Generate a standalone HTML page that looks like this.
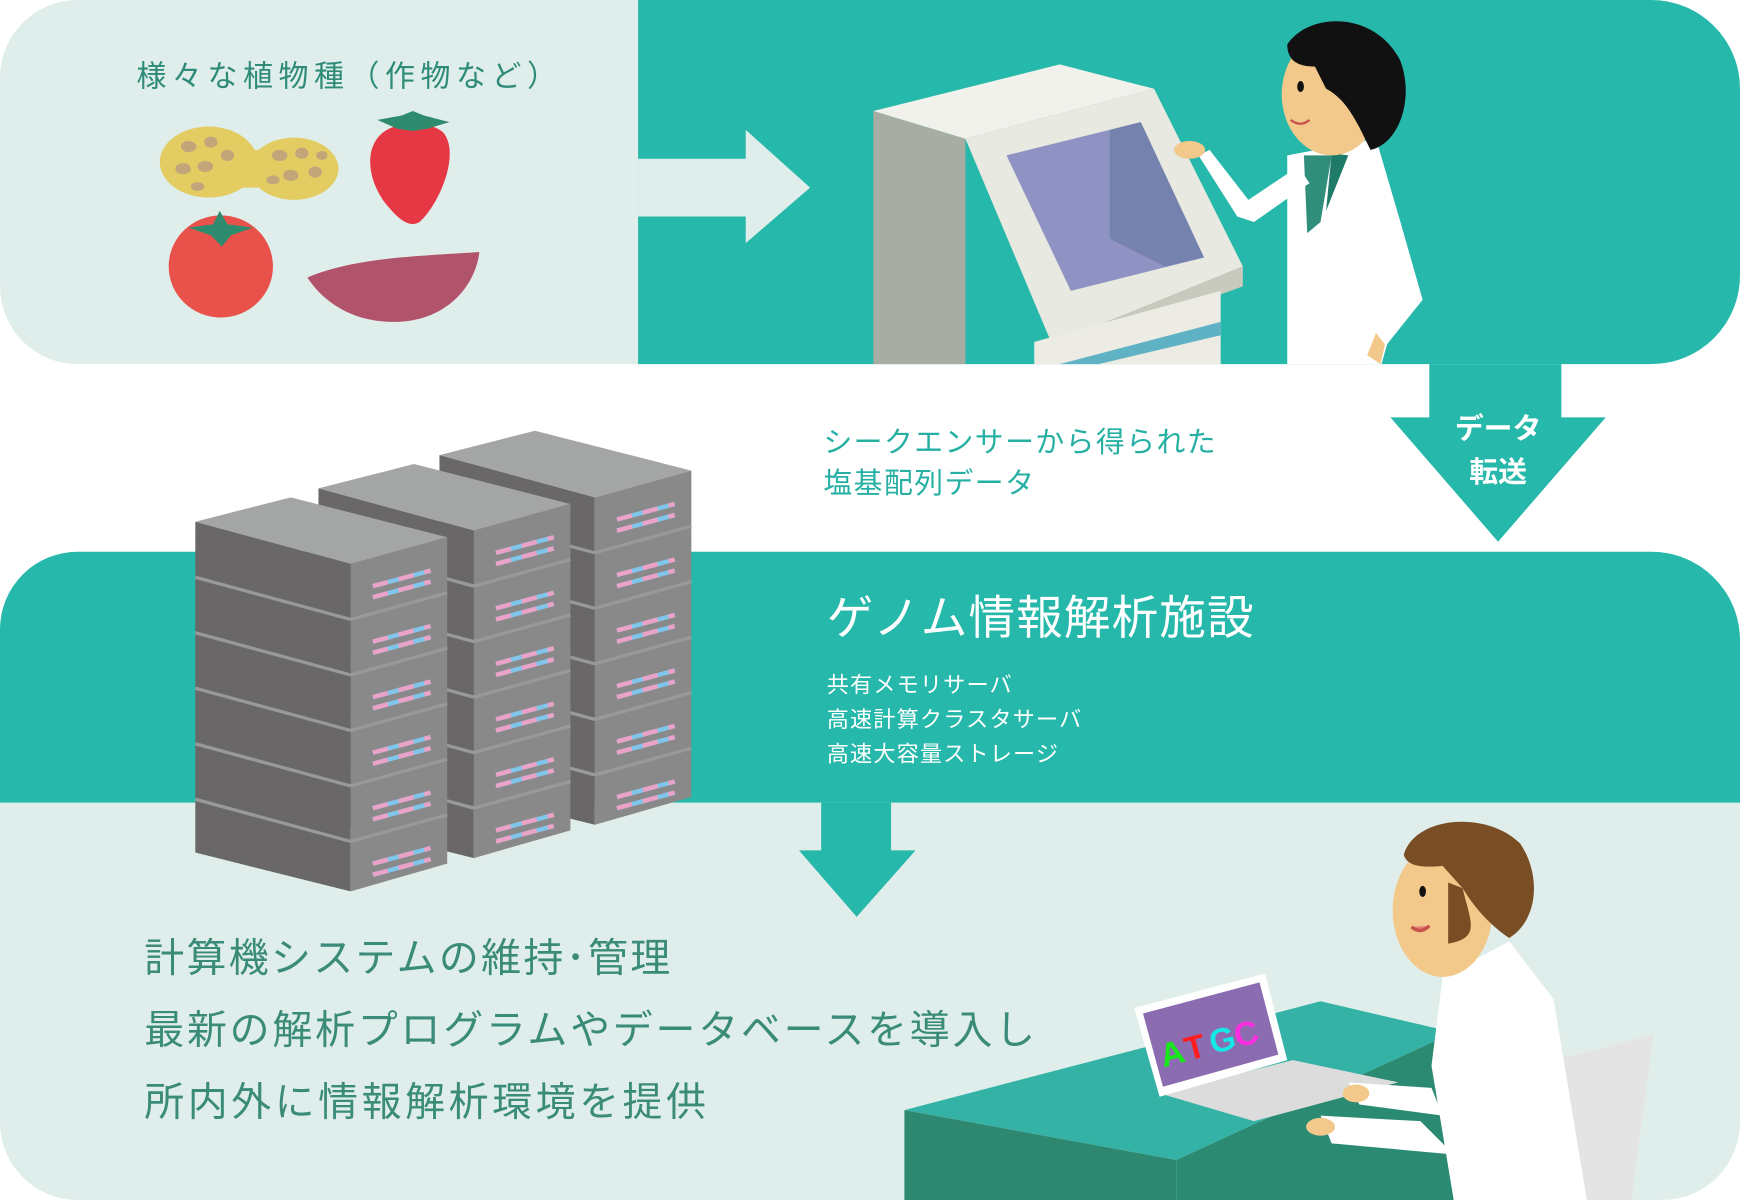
<!DOCTYPE html>
<html><head><meta charset="utf-8"><style>
html,body{margin:0;padding:0;background:#fff;}
svg{display:block}
text{font-family:"Liberation Sans","Noto Sans CJK JP",sans-serif;}
</style></head><body>
<svg width="1740" height="1200" viewBox="0 0 1568 1081" preserveAspectRatio="none" xmlns="http://www.w3.org/2000/svg">
<defs>
<g id="stack">
  <polygon points="0,0 86,-22 227,14 140,38" fill="#a4a5a5"/>
  <polygon points="0,0 140,38 140,333 0,298" fill="#696768"/>
  <polygon points="140,38 227,14 227,308 140,333" fill="#8a898a"/>
  <g stroke="#9a999a" stroke-width="3">
    <line x1="0" y1="50" x2="140" y2="88"/><line x1="0" y1="100" x2="140" y2="138"/>
    <line x1="0" y1="150" x2="140" y2="188"/><line x1="0" y1="200" x2="140" y2="238"/>
    <line x1="0" y1="250" x2="140" y2="288"/>
    <line x1="140" y1="88" x2="227" y2="64"/><line x1="140" y1="138" x2="227" y2="114"/>
    <line x1="140" y1="188" x2="227" y2="164"/><line x1="140" y1="238" x2="227" y2="214"/>
    <line x1="140" y1="288" x2="227" y2="264"/>
  </g>
  <g stroke-width="4">
    <g stroke="#7fc6ea">
      <line x1="160" y1="58" x2="212" y2="44"/><line x1="160" y1="68" x2="212" y2="54"/>
      <line x1="160" y1="108" x2="212" y2="94"/><line x1="160" y1="118" x2="212" y2="104"/>
      <line x1="160" y1="158" x2="212" y2="144"/><line x1="160" y1="168" x2="212" y2="154"/>
      <line x1="160" y1="208" x2="212" y2="194"/><line x1="160" y1="218" x2="212" y2="204"/>
      <line x1="160" y1="258" x2="212" y2="244"/><line x1="160" y1="268" x2="212" y2="254"/>
      <line x1="160" y1="308" x2="212" y2="294"/><line x1="160" y1="318" x2="212" y2="304"/>
    </g>
    <g stroke="#eaa2c8" stroke-dasharray="14 10">
      <line x1="160" y1="58" x2="212" y2="44"/><line x1="160" y1="68" x2="212" y2="54"/>
      <line x1="160" y1="108" x2="212" y2="94"/><line x1="160" y1="118" x2="212" y2="104"/>
      <line x1="160" y1="158" x2="212" y2="144"/><line x1="160" y1="168" x2="212" y2="154"/>
      <line x1="160" y1="208" x2="212" y2="194"/><line x1="160" y1="218" x2="212" y2="204"/>
      <line x1="160" y1="258" x2="212" y2="244"/><line x1="160" y1="268" x2="212" y2="254"/>
      <line x1="160" y1="308" x2="212" y2="294"/><line x1="160" y1="318" x2="212" y2="304"/>
    </g>
  </g>
</g>
</defs>

<path d="M70,0 H575 V328 H70 A70,70 0 0 1 0,258 V70 A70,70 0 0 1 70,0Z" fill="#e0eeeb"/>
<path d="M575,0 H1488 A80,80 0 0 1 1568,80 V248 A80,80 0 0 1 1488,328 H575Z" fill="#26b8aa"/>
<polygon points="575,143 672,143 672,117 730,169 672,219 672,195 575,195" fill="#e0eeeb"/>
<text x="123" y="78" font-size="27" fill="#2d8b78" letter-spacing="5">様々な植物種（作物など）</text>

<g>
  <ellipse cx="188" cy="146" rx="44" ry="32" fill="#e3cd62"/>
  <ellipse cx="265" cy="152" rx="40" ry="28" fill="#e3cd62"/>
  <rect x="200" y="135" width="60" height="34" fill="#e3cd62"/>
  <g fill="#c2a679">
    <ellipse cx="170" cy="132" rx="7" ry="5"/><ellipse cx="190" cy="128" rx="6" ry="5"/><ellipse cx="165" cy="152" rx="7" ry="5"/>
    <ellipse cx="185" cy="150" rx="7" ry="5"/><ellipse cx="205" cy="140" rx="6" ry="5"/><ellipse cx="178" cy="168" rx="6" ry="4"/>
    <ellipse cx="252" cy="140" rx="7" ry="5"/><ellipse cx="272" cy="138" rx="6" ry="5"/><ellipse cx="262" cy="158" rx="7" ry="5"/>
    <ellipse cx="284" cy="155" rx="6" ry="5"/><ellipse cx="246" cy="162" rx="6" ry="4"/><ellipse cx="290" cy="140" rx="5" ry="4"/>
  </g>
  <path d="M370,112 C330,112 325,150 345,180 C360,200 370,205 378,200 C395,185 415,140 400,120 C392,112 380,112 370,112Z" fill="#e63744"/>
  <path d="M340,108 L362,104 L372,100 L382,104 L405,110 L385,116 L372,118 L358,116Z" fill="#2e8b6e"/>
  <ellipse cx="199" cy="240" rx="47" ry="46" fill="#e8524a"/>
  <path d="M170,205 L192,202 L198,190 L205,202 L228,205 L208,212 L200,222 L190,212Z" fill="#2e8b6e"/>
  <path d="M277,250 C300,240 330,235 360,232 C395,229 420,228 432,227 C428,260 400,290 355,290 C315,290 290,270 277,250Z" fill="#b1536b"/>
</g>

<polygon points="787,100 870,125 870,328 787,328" fill="#a7ada2"/>
<polygon points="787,100 955,58 1040,80 870,125" fill="#f1f1eb"/>
<polygon points="870,125 1040,80 1120,240 948,310" fill="#e8e9e0"/>
<polygon points="907,140 1028,110 1085,232 965,262" fill="#8f93c3"/>
<polygon points="1000,117 1028,110 1085,232 1050,240 1000,215" fill="#7682ae"/>
<polygon points="948,310 1120,240 1120,258 948,320" fill="#c9cabe"/>
<polygon points="932,308 1100,262 1100,328 932,328" fill="#ecece4"/>
<polygon points="955,328 1100,290 1100,302 990,328" fill="#5fb1c4"/>

<polygon points="1160,140 1240,125 1262,200 1282,270 1250,310 1245,328 1160,328" fill="#ffffff"/>
<polygon points="1175,140 1200,140 1190,200 1178,210" fill="#2f8f7a"/>
<polygon points="1200,138 1215,140 1195,190" fill="#1f7a68"/>
<polygon points="1170,150 1180,165 1130,200 1115,195 1080,140 1090,135 1125,180" fill="#ffffff"/>
<ellipse cx="1072" cy="135" rx="14" ry="8" fill="#f2c98a"/>
<polygon points="1240,300 1248,310 1244,328 1232,320" fill="#f2c98a"/>
<ellipse cx="1200" cy="85" rx="45" ry="55" fill="#f2c98a"/>
<path d="M1160,40 C1180,10 1240,10 1262,55 C1275,90 1260,130 1235,135 C1225,115 1215,90 1195,80 L1185,60 C1170,60 1160,55 1160,40Z" fill="#111"/>
<ellipse cx="1172" cy="78" rx="3" ry="5" fill="#111"/>
<path d="M1163,108 Q1172,115 1180,108" stroke="#c8504a" stroke-width="2" fill="none"/>

<polygon points="1288,328 1407,328 1407,376 1447,376 1350,488 1253,376 1288,376" fill="#26b8aa"/>
<text x="1350" y="395" font-size="26" fill="#fff" text-anchor="middle" font-weight="bold">データ</text>
<text x="1350" y="434" font-size="26" fill="#fff" text-anchor="middle" font-weight="bold">転送</text>

<text x="742" y="407" font-size="26" fill="#26b0a3" letter-spacing="1.3">シークエンサーから得られた</text>
<text x="742" y="444" font-size="26" fill="#26b0a3" letter-spacing="1.3">塩基配列データ</text>

<path d="M0,723 H1568 V1011 A70,70 0 0 1 1498,1081 H70 A70,70 0 0 1 0,1011Z" fill="#e0eeeb"/>
<path d="M70,497 H1488 A80,80 0 0 1 1568,577 V723 H0 V567 A70,70 0 0 1 70,497Z" fill="#26b8aa"/>
<text x="745" y="571" font-size="42" fill="#fff" letter-spacing="1">ゲノム情報解析施設</text>
<text x="745" y="624" font-size="20" fill="#fff" letter-spacing="1">共有メモリサーバ</text>
<text x="745" y="655" font-size="20" fill="#fff" letter-spacing="1">高速計算クラスタサーバ</text>
<text x="745" y="686" font-size="20" fill="#fff" letter-spacing="1">高速大容量ストレージ</text>
<polygon points="740,723 803,723 803,766 825,766 772,826 720,766 740,766" fill="#26b8aa"/>

<use href="#stack" x="396" y="410"/>
<use href="#stack" x="287" y="440"/>
<use href="#stack" x="176" y="470"/>

<text x="130" y="875" font-size="36" fill="#3a8b78" letter-spacing="2.1">計算機システムの維持･管理</text>
<text x="130" y="940" font-size="36" fill="#3a8b78" letter-spacing="2.5">最新の解析プログラムやデータベースを導入し</text>
<text x="130" y="1005" font-size="36" fill="#3a8b78" letter-spacing="3.2">所内外に情報解析環境を提供</text>

<polygon points="815,1000 1190,902 1310,930 1060,1045" fill="#33b2a5"/>
<polygon points="815,1000 1060,1045 1060,1081 815,1081" fill="#2e8870"/>
<polygon points="1060,1045 1310,930 1310,1081 1060,1081" fill="#2b8a72"/>
<polygon points="1380,960 1490,932 1470,1081 1365,1081" fill="#e4e4e4"/>
<polygon points="1300,880 1360,848 1400,900 1430,1081 1310,1081 1290,960" fill="#ffffff"/>
<ellipse cx="1300" cy="820" rx="45" ry="60" fill="#f2c98a"/>
<path d="M1265,770 C1275,735 1340,730 1370,760 C1390,790 1385,830 1360,845 C1345,835 1330,820 1318,800 L1300,780 C1280,782 1268,780 1265,770Z" fill="#7a4e24"/>
<path d="M1318,800 C1325,830 1335,845 1305,850 L1305,795Z" fill="#7a4e24"/>
<ellipse cx="1282" cy="803" rx="3" ry="5" fill="#111"/>
<path d="M1272,835 Q1280,842 1288,834" stroke="#c8504a" stroke-width="3" fill="#e57f7a"/>
<polygon points="1045,985 1165,955 1260,975 1130,1010" fill="#dcdcdc"/>
<polygon points="1022,908 1140,877 1160,955 1045,988" fill="#ffffff"/>
<polygon points="1030,913 1135,885 1152,950 1048,979" fill="#8c6cb0"/>
<g font-family="Liberation Mono, monospace" font-weight="bold" font-size="30" transform="rotate(-15 1090 935)">
  <text x="1043" y="950" fill="#16e81a">A</text><text x="1066" y="950" fill="#ff1e1e">T</text>
  <text x="1089" y="950" fill="#16e8e8">G</text><text x="1112" y="950" fill="#ff2ee0">C</text>
</g>
<polygon points="1215,975 1290,980 1300,1005 1225,995" fill="#ffffff"/>
<ellipse cx="1222" cy="985" rx="12" ry="8" fill="#f2c98a"/>
<polygon points="1190,1005 1280,1010 1310,1040 1200,1030" fill="#ffffff"/>
<ellipse cx="1190" cy="1015" rx="13" ry="8" fill="#f2c98a"/>
</svg>
</body></html>
